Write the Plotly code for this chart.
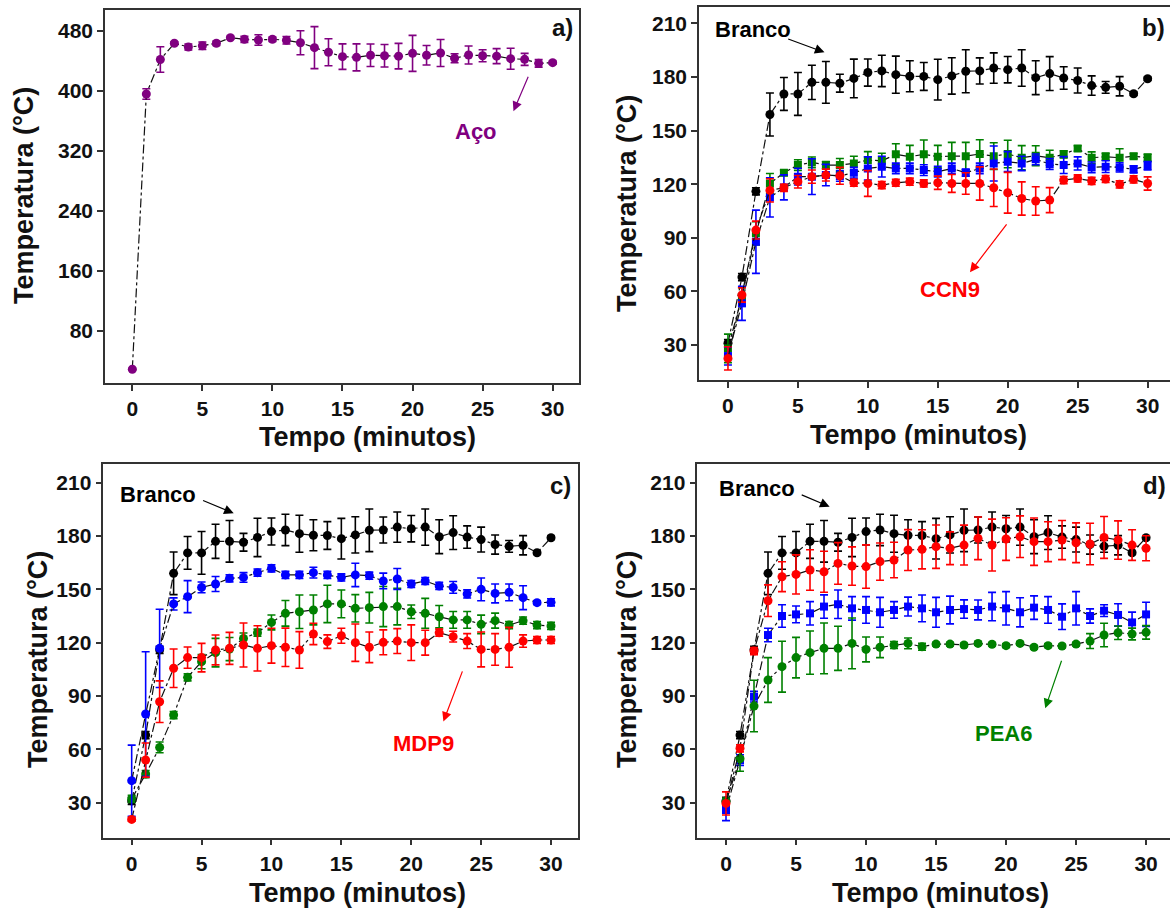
import plotly.graph_objects as go

tempo = list(range(31))

# Panel a) Aço
aco = [29, 396, 442, 463.6, 458.7, 460.4, 463.6, 471, 468.9, 468, 469, 467.6, 464.4, 457.8, 451.6, 445.8,
       444.9, 447.6, 447, 446.5, 450.2, 447.6, 450.7, 443.6, 448, 447, 446.5, 443.1, 442.2, 436.9, 437.8]
aco_err = [1, 7, 17, 2, 4, 5, 3, 2, 4, 7, 3, 5, 16, 28, 18, 17, 18, 15, 15, 17, 24, 13, 18, 6, 12, 8, 10, 14, 8, 5, 2]

# Branco (reference, same in b, c, d)
branco = [31, 68, 116, 159, 170.5, 170.5, 177, 177, 176.5, 179.2, 182.5, 183.4, 181.3, 180.4, 180.3, 178.5,
          180.6, 183.2, 183.4, 185, 184.1, 185, 179.6, 181.9, 179.4, 178, 175.2, 174.2, 174.8, 170.6, 179]
branco_err = [2, 2, 2, 12, 9.2, 12, 9.6, 11.7, 5, 10.8, 7.6, 8.8, 10.4, 8.7, 7.8, 11.4, 10.2, 12, 7.3, 8.5,
              7.4, 10.2, 9.5, 9.5, 6.3, 7, 5.4, 3.3, 5.4, 1, 1]

# Panel b) CCN9
b_green = [28.1, 57, 92.5, 120.4, 126.4, 130.7, 132.2, 130.7, 130.7, 131.6, 133.5, 133.1, 136.7, 135.4, 136.7,
           135.4, 135.7, 135.7, 136.9, 135.7, 136.9, 134.8, 135.9, 134.8, 136.7, 140, 134.8, 135.4, 134.8, 135.7, 134.8]
b_green_err = [8, 5, 6.5, 5.6, 1.5, 3, 3, 2, 3.7, 4, 4.7, 4.2, 5.9, 6.3, 8, 6.3, 7.7, 7.7, 8, 7.5, 7.7, 6.8,
               5.6, 4.2, 2, 1.5, 3.3, 2, 5, 1.5, 2]
b_blue = [23.8, 53.3, 87.8, 112.6, 118.2, 124.2, 124.2, 125.1, 124.6, 126.4, 128.8, 129.8, 128.8, 128.8, 127.9,
          127, 128.8, 126.4, 128.8, 131.6, 132.6, 131.6, 133.9, 131.3, 130.7, 131.6, 129.4, 129.8, 129.4, 128.3, 130.3]
b_blue_err = [5, 9.5, 17.7, 11, 7, 4.7, 10, 6, 3, 3, 6.5, 5.8, 3, 3, 3, 3, 3, 2, 3, 9.8, 5.6, 4, 3, 3, 4.7,
              3.7, 3, 3.3, 2.6, 2, 2.3]
b_red = [22.5, 58, 94.3, 116.5, 118, 121.4, 124.2, 125.1, 124.7, 120.8, 120.4, 119.5, 120.8, 121.4, 120.4,
         120.8, 120.4, 120.4, 120.4, 118, 115.2, 112, 110.6, 111.1, 122.3, 123.2, 121.8, 122.9, 119.9, 122.7, 120.4]
b_red_err = [6.5, 4, 5, 6.5, 2, 3.5, 3.7, 3.3, 4.7, 2, 7.2, 2, 2, 2, 2, 3.7, 5, 6, 9.3, 10.5, 11.4, 9.3, 8,
             7, 2, 2, 2, 2, 2, 2, 3.7]

# Panel c) MDP9
c_blue = [42.4, 79.9, 116.8, 141.8, 145.9, 151.1, 153, 156.2, 156.7, 159.4, 161.8, 158.1, 158.1, 159.4, 158.1,
          156.7, 158.1, 157.7, 154.7, 155.8, 153, 154.7, 151.9, 151.1, 147.4, 150, 147.7, 148.3, 145.3, 142.5, 142.7]
c_blue_err = [20, 35, 22, 3.4, 9, 3, 4.2, 2, 2.7, 2, 2, 2, 2, 3, 2, 2, 6.6, 2, 4.4, 5.9, 2, 2, 2, 3.3, 2.3,
              6.4, 5.3, 4.7, 6.7, 1, 2]
c_green = [32.1, 46.1, 61.1, 79.3, 100.5, 109.3, 114.4, 116.4, 122.4, 125.6, 131.4, 136.5, 137.4, 138.4, 141.8,
           141.8, 139.3, 139.7, 140.3, 140.3, 137.4, 136.5, 134.6, 132.8, 132.8, 130.3, 132.4, 129.9, 132.4, 129.9, 129.4]
c_green_err = [2, 2, 3, 2, 2, 4, 8, 6.5, 3, 2, 4.2, 7.2, 9.4, 8.4, 10.5, 7.8, 7.7, 8.6, 11.3, 10.3, 3.8, 8.4,
               6.3, 4.7, 4.7, 5.2, 4.2, 2, 2, 2, 2]
c_red = [20.6, 54, 86.8, 105.6, 111.6, 111.6, 115.9, 116.8, 118.7, 116.8, 118.3, 117.4, 115.9, 124.9, 120.6,
         123.9, 120, 117.4, 120.2, 120.9, 120, 120, 125.6, 123.4, 120.9, 116.2, 116.2, 117.4, 120.9, 121.5, 121.5]
c_red_err = [1, 9.6, 11.7, 10.8, 6, 8, 8.4, 9, 12.4, 12.7, 9.8, 10.8, 10.3, 6, 3.8, 4.2, 10.5, 8.6, 7, 7, 10,
             7, 2, 3, 4.2, 9.8, 8.9, 11.2, 3.5, 2, 2]

# Panel d) PEA6
d_red = [29.6, 60.6, 115.3, 143.6, 157.1, 158.4, 160.9, 159.9, 164.6, 163.1, 162.8, 165.6, 166.5, 172.1, 172.5,
         174, 173.1, 174.9, 178.7, 174.9, 178.3, 179.6, 176.8, 176.8, 177.7, 176.2, 175.5, 179.2, 177.7, 174.9, 173.1]
d_red_err = [6.5, 2, 2, 8.9, 8.4, 11, 11.4, 11.5, 11.7, 10.8, 12.2, 10.5, 10, 11.5, 11, 12.2, 9.2, 11.2, 12,
             14.6, 12, 11.7, 13.3, 11.2, 11, 11.2, 11.7, 11.8, 10.8, 8.6, 7]
d_blue = [25.9, 54, 89.6, 124.3, 135, 135.9, 136.5, 140.3, 141.6, 139.3, 138.4, 137.1, 138.4, 140.3, 139.3,
          137.1, 138.4, 138.9, 138.4, 140.3, 139.3, 137.1, 139.7, 138.4, 134.6, 139.3, 135, 138, 135.6, 131.4, 135.9]
d_blue_err = [6, 3, 3, 3.8, 6.3, 4.7, 6.6, 6.6, 8, 6.6, 7.5, 8.4, 4.7, 5.3, 7.5, 8.4, 7.8, 5.2, 5.6, 8, 9.4,
              8.2, 6.6, 7.5, 7.2, 9.4, 4, 3.3, 6.3, 5.8, 6.8]
d_green = [30.6, 54.7, 84.4, 99, 106.5, 111.6, 114.4, 116.8, 116.8, 119.6, 116.2, 117.4, 118.7, 119.6, 117.7,
           119.2, 119.2, 118.7, 119.6, 119.1, 118.3, 119.6, 117.4, 118.3, 118.1, 119.2, 120.9, 124.3, 125.6, 124.9, 125.8]
d_green_err = [2, 7, 14.5, 12.6, 14.3, 11.4, 12.2, 14.3, 12.4, 14.3, 7, 5.8, 2, 3, 2, 1, 1, 1, 1, 1, 1, 1, 1,
               1, 1, 1, 4.2, 6.6, 3.8, 3.3, 3.8]

PURPLE = "#800080"
RED = "#FF0000"
BLUE = "#0000FF"
GREEN = "#008000"
BLACK = "#000000"
FONT = "Arial, Liberation Sans, sans-serif"

fig = go.Figure()


def add_series(xa, ya, y, err, color, symbol="circle", size=9):
    fig.add_trace(go.Scatter(
        x=tempo, y=y, xaxis=xa, yaxis=ya, mode="lines+markers",
        line=dict(color="#111111", width=1.2, dash="dashdot"),
        marker=dict(color=color, size=size, symbol=symbol, line=dict(width=0)),
        error_y=dict(type="data", array=err, visible=True, color=color, thickness=1.6, width=4),
        showlegend=False, hoverinfo="x+y"))


# a
add_series("x", "y", aco, aco_err, PURPLE)
# b
add_series("x2", "y2", branco, branco_err, BLACK)
add_series("x2", "y2", b_green, b_green_err, GREEN, "square", 8)
add_series("x2", "y2", b_blue, b_blue_err, BLUE, "square", 8)
add_series("x2", "y2", b_red, b_red_err, RED)
# c
add_series("x3", "y3", branco, branco_err, BLACK)
add_series("x3", "y3", c_green, c_green_err, GREEN)
add_series("x3", "y3", c_blue, c_blue_err, BLUE)
add_series("x3", "y3", c_red, c_red_err, RED)
# d
add_series("x4", "y4", branco, branco_err, BLACK)
add_series("x4", "y4", d_blue, d_blue_err, BLUE, "square", 8)
add_series("x4", "y4", d_green, d_green_err, GREEN)
add_series("x4", "y4", d_red, d_red_err, RED)

W, H = 1170, 912
tickfont = dict(family=FONT, size=21, color="#111111", weight="bold")


def xax(dom, anchor, rng, mirror=True):
    return dict(domain=dom, anchor=anchor, range=rng, tickmode="array", tickvals=[0, 5, 10, 15, 20, 25, 30],
                ticks="outside", ticklen=6, tickwidth=1.5, tickcolor="#333", showline=True, linecolor="#333",
                linewidth=1.5, mirror=mirror, showgrid=False, zeroline=False, tickfont=tickfont)


def yax(dom, anchor, rng, vals, mirror=True):
    return dict(domain=dom, anchor=anchor, range=rng, tickmode="array", tickvals=vals,
                ticks="outside", ticklen=6, tickwidth=1.5, tickcolor="#333", showline=True, linecolor="#333",
                linewidth=1.5, mirror=mirror, showgrid=False, zeroline=False, tickfont=tickfont)


ya_ticks = [80, 160, 240, 320, 400, 480]
yb_ticks = [30, 60, 90, 120, 150, 180, 210]

layout = dict(
    width=W, height=H, margin=dict(l=0, r=0, t=0, b=0),
    paper_bgcolor="white", plot_bgcolor="white",
    font=dict(family=FONT, color="#111111"),
    xaxis=xax([105 / W, 579 / W], "y", [-1.95, 31.88]),
    yaxis=yax([1 - 383 / H, 1 - 10 / H], "x", [10.7, 508], ya_ticks),
    xaxis2=xax([699 / W, 1.0], "y2", [-2.07, 31.6]),
    yaxis2=yax([1 - 380 / H, 1 - 7.3 / H], "x2", [10.4, 219], yb_ticks, mirror=False),
    xaxis3=xax([103.3 / W, 578 / W], "y3", [-2.03, 31.93]),
    yaxis3=yax([1 - 837.7 / H, 1 - 464 / H], "x3", [10.3, 220.5], yb_ticks),
    xaxis4=xax([697.3 / W, 1.0], "y4", [-2.05, 31.71]),
    yaxis4=yax([1 - 837.7 / H, 1 - 464 / H], "x4", [10.3, 220.5], yb_ticks, mirror=False),
)

ann = []


def ptext(px, py, text, size=27, color="#111111", angle=0):
    ann.append(dict(x=px / W, y=1 - py / H, xref="paper", yref="paper", text="<b>%s</b>" % text,
                    showarrow=False, textangle=angle, xanchor="center", yanchor="middle",
                    font=dict(family=FONT, size=size, color=color)))


# axis titles
ptext(24, 196, "Temperatura (°C)", angle=-90)
ptext(627, 204, "Temperatura (°C)", angle=-90)
ptext(38, 660, "Temperatura (°C)", angle=-90)
ptext(627, 660, "Temperatura (°C)", angle=-90)
ptext(367, 437, "Tempo (minutos)")
ptext(918, 435, "Tempo (minutos)")
ptext(357, 893, "Tempo (minutos)")
ptext(940, 893, "Tempo (minutos)")

# panel letters
ptext(562, 28, "a)", size=24)
ptext(1153, 28, "b)", size=24)
ptext(560, 485, "c)", size=24)
ptext(1154, 485, "d)", size=24)


def dtext(xr, yr, x, y, text, color, size=22):
    ann.append(dict(x=x, y=y, xref=xr, yref=yr, text="<b>%s</b>" % text, showarrow=False,
                    font=dict(family=FONT, size=size, color=color), xanchor="center", yanchor="middle"))


def darrow(xr, yr, x0, y0, x1, y1, color):
    ann.append(dict(x=x1, y=y1, ax=x0, ay=y0, xref=xr, yref=yr, axref=xr, ayref=yr, text="",
                    showarrow=True, arrowhead=2, arrowsize=1.6, arrowwidth=1.2, arrowcolor=color))


dtext("x", "y", 24.5, 346, "Aço", PURPLE)
darrow("x", "y", 28.3, 421, 27.2, 373, PURPLE)

dtext("x2", "y2", 1.8, 206.6, "Branco", BLACK)
darrow("x2", "y2", 4.2, 201.6, 6.9, 193.8, BLACK)
dtext("x2", "y2", 15.9, 61.1, "CCN9", RED)
darrow("x2", "y2", 20.0, 98.4, 17.3, 70.7, RED)

dtext("x3", "y3", 1.9, 203.1, "Branco", BLACK)
darrow("x3", "y3", 5.0, 200.3, 7.3, 192.8, BLACK)
dtext("x3", "y3", 20.9, 63.4, "MDP9", RED)
darrow("x3", "y3", 23.7, 104.7, 22.3, 75.6, RED)

dtext("x4", "y4", 2.2, 206.9, "Branco", BLACK)
darrow("x4", "y4", 5.3, 203.5, 7.4, 196.5, BLACK)
dtext("x4", "y4", 19.8, 69, "PEA6", GREEN)
darrow("x4", "y4", 24.0, 110.7, 22.8, 83.1, GREEN)

layout["annotations"] = ann
fig.update_layout(**layout)
fig.write_html("out.html", config={"displayModeBar": False},
               post_script="document.body.style.margin='0';document.body.style.overflow='hidden';")
